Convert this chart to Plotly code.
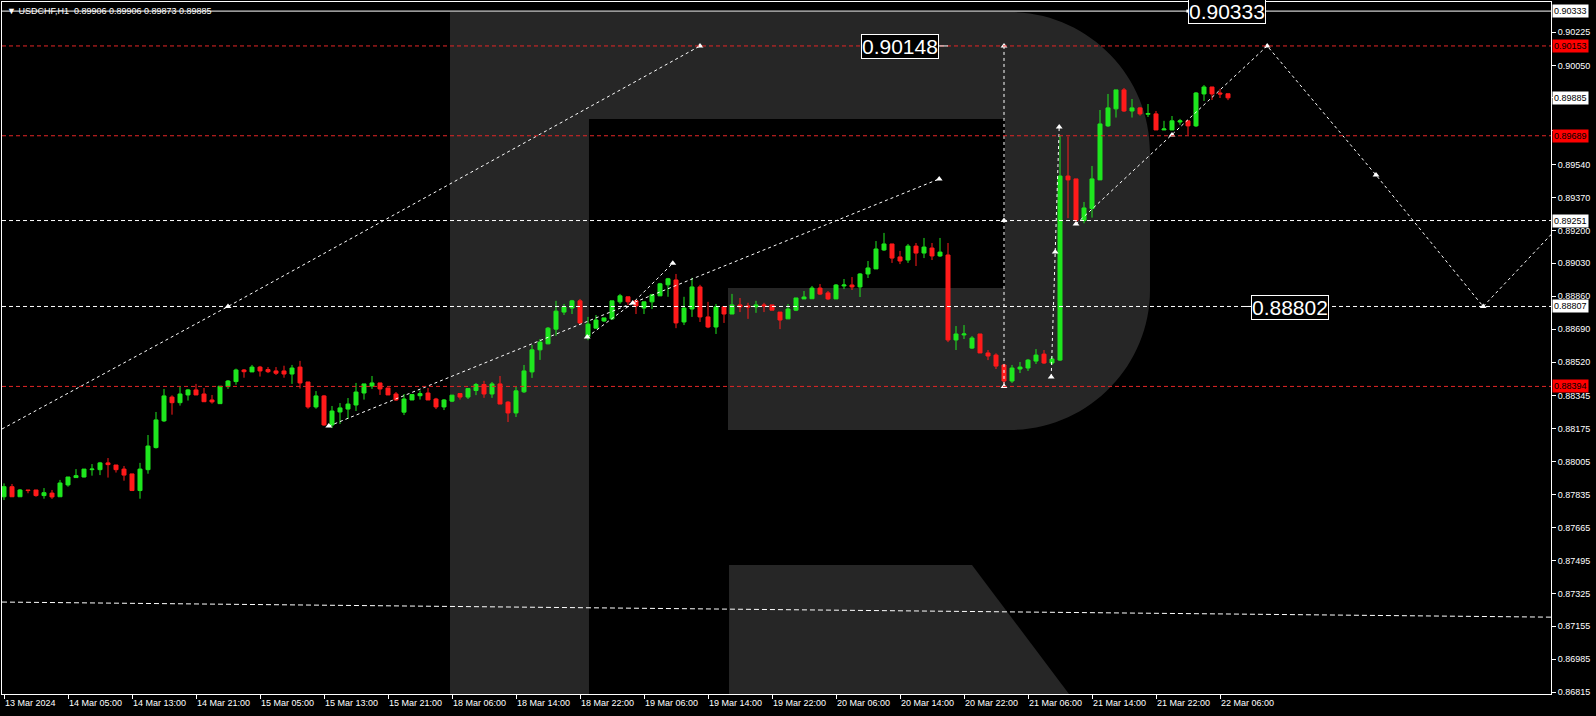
import plotly.graph_objects as go

# ---------------- data ----------------
bars = list(range(154))
opens = [0.87824, 0.87876, 0.87824, 0.87859, 0.87859, 0.87830, 0.87843, 0.87824, 0.87885, 0.87923,
         0.87926, 0.87964, 0.87964, 0.87999, 0.87988, 0.87967, 0.87942, 0.87856, 0.87964, 0.88078,
         0.88216, 0.88339, 0.88310, 0.88350, 0.88376, 0.88355, 0.88324, 0.88305, 0.88393, 0.88419,
         0.88479, 0.88469, 0.88494, 0.88481, 0.88474, 0.88474, 0.88458, 0.88494, 0.88417, 0.88288,
         0.88345, 0.88195, 0.88262, 0.88277, 0.88298, 0.88360, 0.88396, 0.88412, 0.88386, 0.88355,
         0.88261, 0.88324, 0.88346, 0.88360, 0.88329, 0.88288, 0.88318, 0.88357, 0.88339, 0.88373,
         0.88404, 0.88355, 0.88407, 0.88313, 0.88257, 0.88366, 0.88469, 0.88583, 0.88614, 0.88690,
         0.88778, 0.88799, 0.88836, 0.88651, 0.88695, 0.88732, 0.88743, 0.88831, 0.88857, 0.88836,
         0.88799, 0.88831, 0.88862, 0.88919, 0.88944, 0.88727, 0.88794, 0.88908, 0.88753, 0.88701,
         0.88805, 0.88768, 0.88815, 0.88810, 0.88805, 0.88815, 0.88815, 0.88778, 0.88743, 0.88788,
         0.88846, 0.88847, 0.88902, 0.88877, 0.88846, 0.88913, 0.88918, 0.88908, 0.88975, 0.89001,
         0.89099, 0.89130, 0.89063, 0.89047, 0.89119, 0.89083, 0.89109, 0.89068, 0.89073, 0.88634,
         0.88660, 0.88592, 0.88665, 0.88567, 0.88556, 0.88505, 0.88422, 0.88484, 0.88489, 0.88525,
         0.88561, 0.88515, 0.88530, 0.89481, 0.89466, 0.89251, 0.89313, 0.89461, 0.89740, 0.89828,
         0.89926, 0.89817, 0.89833, 0.89800, 0.89802, 0.89719, 0.89719, 0.89760, 0.89766, 0.89740,
         0.89905, 0.89941, 0.89910, 0.89906]
highs = [0.87893, 0.87890, 0.87864, 0.87859, 0.87859, 0.87869, 0.87859, 0.87911, 0.87926, 0.87967,
         0.87967, 0.87993, 0.88004, 0.88024, 0.87988, 0.87983, 0.87942, 0.87999, 0.88143, 0.88262,
         0.88381, 0.88348, 0.88391, 0.88381, 0.88407, 0.88386, 0.88350, 0.88395, 0.88427, 0.88486,
         0.88484, 0.88505, 0.88500, 0.88494, 0.88494, 0.88501, 0.88505, 0.88526, 0.88417, 0.88370,
         0.88350, 0.88293, 0.88308, 0.88334, 0.88412, 0.88407, 0.88448, 0.88412, 0.88386, 0.88365,
         0.88355, 0.88352, 0.88373, 0.88386, 0.88335, 0.88329, 0.88349, 0.88360, 0.88383, 0.88412,
         0.88423, 0.88417, 0.88448, 0.88318, 0.88391, 0.88505, 0.88608, 0.88639, 0.88701, 0.88836,
         0.88820, 0.88841, 0.88846, 0.88753, 0.88763, 0.88748, 0.88836, 0.88872, 0.88857, 0.88841,
         0.88831, 0.88872, 0.88929, 0.88955, 0.88975, 0.88857, 0.88955, 0.88919, 0.88831, 0.88820,
         0.88805, 0.88872, 0.88851, 0.88826, 0.88836, 0.88826, 0.88815, 0.88778, 0.88820, 0.88851,
         0.88887, 0.88913, 0.88923, 0.88887, 0.88923, 0.88949, 0.88959, 0.88980, 0.89042, 0.89145,
         0.89187, 0.89130, 0.89094, 0.89130, 0.89135, 0.89161, 0.89135, 0.89161, 0.89135, 0.88706,
         0.88711, 0.88654, 0.88665, 0.88582, 0.88565, 0.88510, 0.88505, 0.88520, 0.88536, 0.88587,
         0.88582, 0.88551, 0.89689, 0.89685, 0.89466, 0.89347, 0.89533, 0.89822, 0.89905, 0.89926,
         0.89936, 0.89879, 0.89838, 0.89853, 0.89817, 0.89766, 0.89791, 0.89776, 0.89766, 0.89915,
         0.89951, 0.89941, 0.89931, 0.89906]
lows = [0.87807, 0.87824, 0.87824, 0.87842, 0.87824, 0.87814, 0.87813, 0.87824, 0.87876, 0.87923,
        0.87924, 0.87933, 0.87936, 0.87923, 0.87949, 0.87907, 0.87856, 0.87814, 0.87943, 0.88073,
        0.88210, 0.88248, 0.88295, 0.88321, 0.88350, 0.88315, 0.88305, 0.88305, 0.88381, 0.88403,
        0.88439, 0.88469, 0.88445, 0.88463, 0.88453, 0.88439, 0.88407, 0.88383, 0.88279, 0.88279,
        0.88190, 0.88179, 0.88200, 0.88226, 0.88267, 0.88326, 0.88381, 0.88350, 0.88350, 0.88319,
        0.88246, 0.88324, 0.88326, 0.88324, 0.88277, 0.88272, 0.88313, 0.88326, 0.88329, 0.88349,
        0.88335, 0.88335, 0.88303, 0.88210, 0.88236, 0.88360, 0.88438, 0.88531, 0.88612, 0.88655,
        0.88763, 0.88768, 0.88716, 0.88633, 0.88695, 0.88727, 0.88737, 0.88820, 0.88815, 0.88768,
        0.88768, 0.88794, 0.88862, 0.88857, 0.88695, 0.88711, 0.88753, 0.88727, 0.88695, 0.88665,
        0.88722, 0.88768, 0.88778, 0.88743, 0.88774, 0.88778, 0.88788, 0.88690, 0.88743, 0.88783,
        0.88846, 0.88846, 0.88866, 0.88840, 0.88846, 0.88897, 0.88892, 0.88856, 0.88954, 0.89001,
        0.89094, 0.89032, 0.89026, 0.89032, 0.89016, 0.89057, 0.89047, 0.89063, 0.88623, 0.88582,
        0.88639, 0.88587, 0.88567, 0.88530, 0.88484, 0.88396, 0.88412, 0.88463, 0.88474, 0.88510,
        0.88510, 0.88505, 0.88525, 0.89263, 0.89245, 0.89237, 0.89266, 0.89461, 0.89734, 0.89783,
        0.89812, 0.89783, 0.89793, 0.89786, 0.89719, 0.89719, 0.89719, 0.89745, 0.89693, 0.89734,
        0.89869, 0.89874, 0.89884, 0.89873]
closes = [0.87876, 0.87824, 0.87859, 0.87856, 0.87830, 0.87845, 0.87823, 0.87895, 0.87926, 0.87933,
          0.87967, 0.87967, 0.87999, 0.87990, 0.87964, 0.87936, 0.87856, 0.87967, 0.88086, 0.88221,
          0.88345, 0.88310, 0.88355, 0.88376, 0.88350, 0.88315, 0.88314, 0.88395, 0.88422, 0.88479,
          0.88470, 0.88494, 0.88474, 0.88470, 0.88462, 0.88458, 0.88489, 0.88412, 0.88288, 0.88345,
          0.88195, 0.88267, 0.88283, 0.88303, 0.88365, 0.88407, 0.88412, 0.88381, 0.88350, 0.88324,
          0.88329, 0.88352, 0.88357, 0.88324, 0.88288, 0.88324, 0.88349, 0.88339, 0.88383, 0.88404,
          0.88355, 0.88407, 0.88303, 0.88257, 0.88371, 0.88474, 0.88583, 0.88623, 0.88695, 0.88783,
          0.88805, 0.88836, 0.88722, 0.88716, 0.88737, 0.88748, 0.88836, 0.88862, 0.88831, 0.88810,
          0.88831, 0.88867, 0.88924, 0.88950, 0.88722, 0.88799, 0.88908, 0.88753, 0.88701, 0.88805,
          0.88768, 0.88815, 0.88805, 0.88805, 0.88815, 0.88810, 0.88788, 0.88737, 0.88794, 0.88851,
          0.88856, 0.88902, 0.88871, 0.88846, 0.88918, 0.88918, 0.88908, 0.88975, 0.89006, 0.89104,
          0.89130, 0.89057, 0.89042, 0.89119, 0.89083, 0.89114, 0.89068, 0.89088, 0.88634, 0.88665,
          0.88665, 0.88644, 0.88567, 0.88551, 0.88499, 0.88422, 0.88489, 0.88494, 0.88530, 0.88556,
          0.88515, 0.88536, 0.89481, 0.89461, 0.89251, 0.89316, 0.89466, 0.89750, 0.89833, 0.89926,
          0.89817, 0.89833, 0.89802, 0.89804, 0.89719, 0.89724, 0.89766, 0.89766, 0.89740, 0.89910,
          0.89941, 0.89905, 0.89905, 0.89885]

x_tick_bars = list(range(0, 153, 8))
x_tick_labels = ["13 Mar 2024", "14 Mar 05:00", "14 Mar 13:00", "14 Mar 21:00", "15 Mar 05:00",
                 "15 Mar 13:00", "15 Mar 21:00", "18 Mar 06:00", "18 Mar 14:00", "18 Mar 22:00",
                 "19 Mar 06:00", "19 Mar 14:00", "19 Mar 22:00", "20 Mar 06:00", "20 Mar 14:00",
                 "20 Mar 22:00", "21 Mar 06:00", "21 Mar 14:00", "21 Mar 22:00", "22 Mar 06:00"]
y_tick_values = [0.90225, 0.90050, 0.89885, 0.89715, 0.89540, 0.89370, 0.89200, 0.89030, 0.88860,
                 0.88690, 0.88520, 0.88345, 0.88175, 0.88005, 0.87835, 0.87665, 0.87495, 0.87325,
                 0.87155, 0.86985, 0.86815]
# ticks whose labels sit fully under a price box on the axis
y_hidden_labels = [0.89885, 0.89715]

red_levels = [0.90153, 0.89689, 0.88394]
white_levels = [0.89251, 0.88807]
top_level = [0.90333]
trend_x = [-0.25, 193.4]
trend_y = [0.87280, 0.87202]

# forecast polylines (bar index, price) and their arrow markers
fc1_x = [-0.25, 28, 87];            fc1_y = [0.88174, 0.88807, 0.90153]
fc2_x = [40.6, 116.9];              fc2_y = [0.88189, 0.89466]
fc3_x = [72.9, 78.6, 83.6];         fc3_y = [0.88649, 0.88825, 0.89030]
fc4_x = [125, 125];                 fc4_y = [0.90153, 0.88394]
fc5_x = [130.9, 131.4, 131.9];      fc5_y = [0.88443, 0.89088, 0.89734]
fc6_x = [134, 146, 157.9, 171.5, 184.9, 196]
fc6_y = [0.89233, 0.89693, 0.90153, 0.89486, 0.88807, 0.89293]
mark_x = [28, 87, 40.6, 116.9, 72.9, 78.6, 83.6, 125, 125, 125, 130.9, 131.4, 131.9,
          134, 146, 157.9, 171.5, 184.9]
mark_y = [0.88807, 0.90153, 0.88189, 0.89466, 0.88649, 0.88825, 0.89030, 0.90153, 0.89251,
          0.88394, 0.88443, 0.89088, 0.89734, 0.89233, 0.89693, 0.90153, 0.89486, 0.88807]

axis_white_boxes = [0.90333, 0.89885, 0.89251, 0.88807]
axis_red_boxes = [0.90153, 0.89689, 0.88394]
big_labels = [("0.90148", 112.0, 0.90148), ("0.90333", 152.9, 0.90331), ("0.88802", 160.8, 0.88802)]
title_text = "\u25bc USDCHF,H1  0.89906 0.89906 0.89873 0.89885"

# ---------------- layout geometry ----------------
W, H = 1596, 716
PX0, PX1, PY0, PY1 = 2, 1551, 2, 694
FONT = "Liberation Sans"


def paper(px, py):
    return (px - PX0) / (PX1 - PX0), (PY1 - py) / (PY1 - PY0)


def build_path(cmds):
    parts = []
    for c in cmds:
        if c[0] == "Z":
            parts.append("Z")
            continue
        pts = c[1:]
        coords = []
        for i in range(0, len(pts), 2):
            a, b = paper(pts[i], pts[i + 1])
            coords.append(f"{a:.5f},{b:.5f}")
        parts.append(c[0] + " " + " ".join(coords))
    return " ".join(parts)


r_body = [("M", 450, 12), ("L", 1010, 12), ("C", 1087, 12, 1150, 75, 1150, 152),
          ("L", 1150, 290), ("C", 1150, 367, 1087, 430, 1010, 430), ("L", 728, 430),
          ("L", 728, 288), ("L", 1005, 288), ("L", 1005, 119), ("L", 589, 119),
          ("L", 589, 694), ("L", 450, 694), ("Z",)]
r_leg = [("M", 729, 565), ("L", 972, 565), ("L", 1069, 694), ("L", 729, 694), ("Z",)]

fig = go.Figure()

fig.add_trace(go.Candlestick(
    x=bars, open=opens, high=highs, low=lows, close=closes,
    increasing=dict(line=dict(color="#1ee61e", width=1), fillcolor="#1ee61e"),
    decreasing=dict(line=dict(color="#ff1a1a", width=1), fillcolor="#ff1a1a"),
    whiskerwidth=0, hoverinfo="skip", showlegend=False))

dash_fc = "3px,3px"
for xs, ys in [(fc1_x, fc1_y), (fc2_x, fc2_y), (fc3_x, fc3_y), (fc4_x, fc4_y),
               (fc5_x, fc5_y), (fc6_x, fc6_y)]:
    fig.add_trace(go.Scatter(x=xs, y=ys, mode="lines",
                             line=dict(color="white", width=1, dash=dash_fc),
                             hoverinfo="skip", showlegend=False))

fig.add_trace(go.Scatter(x=trend_x, y=trend_y, mode="lines",
                         line=dict(color="white", width=1, dash="5px,3px"),
                         hoverinfo="skip", showlegend=False))

fig.add_trace(go.Scatter(x=mark_x, y=mark_y, mode="markers",
                         marker=dict(symbol="triangle-up", size=6, color="white"),
                         hoverinfo="skip", showlegend=False))

shapes = [
    dict(type="path", path=build_path(r_body), xref="paper", yref="paper",
         fillcolor="#262626", line=dict(width=0), layer="below"),
    dict(type="path", path=build_path(r_leg), xref="paper", yref="paper",
         fillcolor="#262626", line=dict(width=0), layer="below"),
]
for v in red_levels:
    shapes.append(dict(type="line", xref="paper", x0=0, x1=1, yref="y", y0=v, y1=v,
                       line=dict(color="#e32626", width=1, dash="4px,3px"), layer="above"))
for v in white_levels:
    shapes.append(dict(type="line", xref="paper", x0=0, x1=1, yref="y", y0=v, y1=v,
                       line=dict(color="white", width=1, dash="4px,3px"), layer="above"))
for v in top_level:
    shapes.append(dict(type="line", xref="paper", x0=0, x1=1, yref="y", y0=v, y1=v,
                       line=dict(color="white", width=1), layer="above"))
# small connectors beside the big price labels
shapes.append(dict(type="line", xref="x", yref="y", x0=116.6, x1=118.0, y0=0.90153, y1=0.90153,
                   line=dict(color="white", width=1)))
shapes.append(dict(type="line", xref="x", yref="y", x0=155.1, x1=156.2, y0=0.88807, y1=0.88807,
                   line=dict(color="white", width=1)))
shapes.append(dict(type="line", xref="x", yref="y", x0=147.8, x1=148.4, y0=0.90333, y1=0.90333,
                   line=dict(color="white", width=3)))

annotations = []
for v in axis_white_boxes:
    annotations.append(dict(xref="paper", x=1, xanchor="left", xshift=1, yref="y", y=v,
                            text=f"{v:.5f}", showarrow=False, bgcolor="white",
                            font=dict(family=FONT, size=9, color="black"), borderpad=1))
for v in axis_red_boxes:
    annotations.append(dict(xref="paper", x=1, xanchor="left", xshift=1, yref="y", y=v,
                            text=f"{v:.5f}", showarrow=False, bgcolor="#ff0000",
                            font=dict(family=FONT, size=9, color="black"), borderpad=1))
for txt, bx, by in big_labels:
    annotations.append(dict(xref="x", x=bx, yref="y", y=by, text=txt, showarrow=False,
                            bgcolor="black", bordercolor="white", borderwidth=1, borderpad=0,
                            font=dict(family=FONT, size=21, color="white")))
annotations.append(dict(xref="paper", x=0, xanchor="left", xshift=3, yref="paper", y=1,
                        yanchor="middle", yshift=-9, text=title_text, showarrow=False,
                        font=dict(family=FONT, size=9, color="white")))

fig.update_layout(
    width=W, height=H,
    margin=dict(l=PX0, r=W - PX1, t=PY0, b=H - PY1, pad=0, autoexpand=False),
    paper_bgcolor="black", plot_bgcolor="rgba(0,0,0,0)",
    showlegend=False, hovermode=False,
    boxgap=0.5, boxgroupgap=0,
    shapes=shapes, annotations=annotations,
    xaxis=dict(range=[-0.25, 193.375], rangeslider=dict(visible=False), automargin=False,
               showgrid=False, zeroline=False, showline=True, mirror=True,
               linecolor="white", linewidth=1,
               tickmode="array", tickvals=x_tick_bars, ticktext=x_tick_labels,
               ticks="outside", ticklen=4, tickcolor="white", tickwidth=1,
               ticklabelposition="outside right",
               tickfont=dict(family=FONT, size=9, color="white")),
    yaxis=dict(range=[0.86805, 0.90380], side="right", automargin=False,
               showgrid=False, zeroline=False, showline=True, mirror=True,
               linecolor="white", linewidth=1,
               tickmode="array", tickvals=y_tick_values,
               ticktext=["" if v in y_hidden_labels else f"{v:.5f}" for v in y_tick_values],
               ticks="outside", ticklen=4, tickcolor="white", tickwidth=1,
               tickfont=dict(family=FONT, size=9, color="white")),
)

fig.write_html(
    "out.html",
    config={"displayModeBar": False, "staticPlot": True},
    post_script="document.body.style.margin='0';document.body.style.padding='0';"
                "document.documentElement.style.background='black';",
)
